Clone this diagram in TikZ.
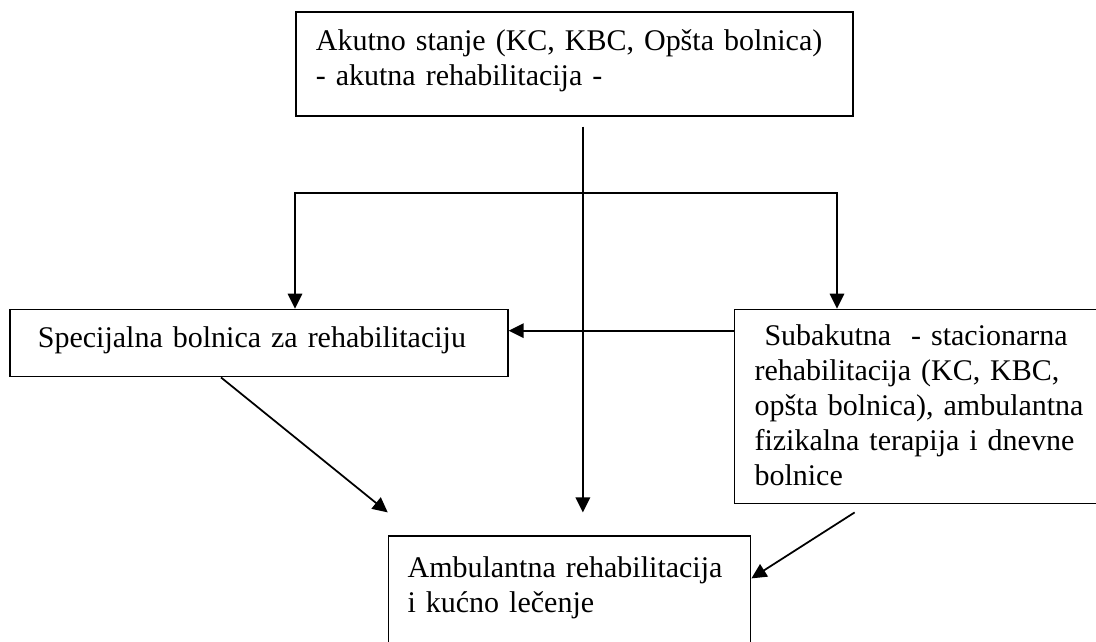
\documentclass[tikz,border=0pt]{standalone}
\usepackage{fontspec}
\setmainfont{Liberation Serif}
\usepackage{tikz}
\usetikzlibrary{positioning}
\usetikzlibrary{arrows.meta}

\tikzset{
  stage/.style={draw, inner ysep=0pt, align=left, anchor=north west,
    font=\fontsize{17.07pt}{19.92pt}\selectfont},
}

\begin{document}
\begin{tikzpicture}[x=0.02cm, y=0.02cm, line width=1pt,
    >={Triangle[length=0.3cm, width=0.29cm]}]

  \useasboundingbox (0,0) rectangle (1096,-642);

  % Stages
  \node[stage, inner xsep=0.4cm, text width=10.34cm, text height=0.78cm, text depth=1.3cm] (akut-s) at (295,-11) {Akutno stanje (KC, KBC, Opšta bolnica)\\- akutna rehabilitacija -}; %
  \node[stage, below=3.84cm of akut-s.south west, anchor=north west, xshift=-5.72cm,
    inner xsep=0.56cm, text width=8.84cm, text height=0.76cm, text depth=0.58cm] (spec-b) {Specijalna bolnica za rehabilitaciju}; %
  \node[stage, right=4.5cm of spec-b.north east, anchor=north west,
    inner xsep=0.4cm, text width=6.96cm, text height=0.72cm, text depth=3.16cm] (subak-s) {\ Subakutna\ \ - stacionarna\\rehabilitacija (KC, KBC,\\opšta bolnica), ambulantna\\fizikalna terapija i dnevne\\bolnice}; %
  \node[stage, below=3.16cm of spec-b.south east, anchor=north west, xshift=-2.42cm,
    inner xsep=0.38cm, text width=6.48cm, text height=0.82cm, text depth=1.94cm] (amb-r) {Ambulantna rehabilitacija\\i kućno lečenje}; %

  % Edges
  \coordinate (split-l) at (295,-193);
  \coordinate (split-r) at (837,-193);
  \draw[<->] (split-l |- spec-b.north) -- (split-l) -- (split-r) -- (split-r |- subak-s.north);

  \coordinate (main-v) at ([xshift=0.17cm, yshift=-0.2cm]akut-s.south);
  \draw[->, shorten >=0.46cm] (main-v) -- (main-v |- amb-r.north);
  \draw[->] ([yshift=-0.44cm]subak-s.north west) coordinate (cross-h) -- (cross-h -| spec-b.east);

  \draw[->] ([xshift=4.24cm]spec-b.south west) -- ([yshift=0.46cm]amb-r.north west);
  \draw[->] ([xshift=2.42cm, yshift=-0.16cm]subak-s.south west) -- ([yshift=-0.86cm]amb-r.north east);

\end{tikzpicture}
\end{document}
